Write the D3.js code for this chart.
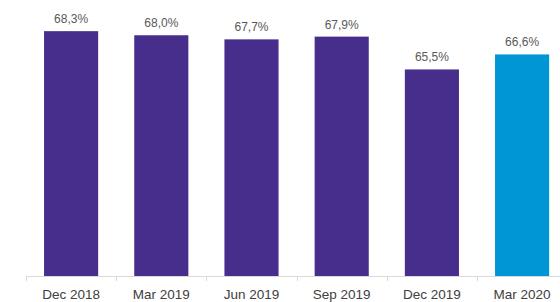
<!DOCTYPE html>
<html><head><meta charset="utf-8">
<script src="https://cdn.jsdelivr.net/npm/d3@7"></script>
<style>body{margin:0;background:#fff}svg{display:block}</style>
</head><body>
<svg id="c" width="560" height="302"></svg>
<script>
const categories = ["Dec 2018","Mar 2019","Jun 2019","Sep 2019","Dec 2019","Mar 2020"];
const values = [68.3, 68.0, 67.7, 67.9, 65.5, 66.6];
const valueLabels = ["68,3%","68,0%","67,7%","67,9%","65,5%","66,6%"];
const highlight = [false,false,false,false,false,true];

const svg = d3.select("#c");
const x = d3.scaleBand().domain(categories).range([26, 567.2]).paddingInner(0.4).paddingOuter(0.2);
const y = d3.scaleLinear().domain([50.4, 70]).range([276, 7.9]);
const step = x.step();

svg.selectAll("rect.bar").data(values).enter().append("rect")
  .attr("class","bar")
  .attr("x",(d,i)=>x(categories[i]))
  .attr("width",x.bandwidth())
  .attr("y",d=>y(d))
  .attr("height",d=>y.range()[0]-y(d))
  .attr("fill",(d,i)=>highlight[i]?"#0096D6":"#482E8C");

// axis line
svg.append("line").attr("x1",26).attr("x2",560).attr("y1",276.5).attr("y2",276.5)
  .attr("stroke","#d9d9d9").attr("stroke-width",1);
// band boundary ticks
categories.forEach(c=>{
  const tx = Math.round(x(c) - x.paddingOuter()*step) + 0.5;
  svg.append("line").attr("x1",tx).attr("x2",tx).attr("y1",276).attr("y2",281)
    .attr("stroke","#d9d9d9").attr("stroke-width",1);
});

svg.selectAll("text.cat").data(categories).enter().append("text")
  .attr("class","cat")
  .attr("x",d=>x(d)+x.bandwidth()/2)
  .attr("y",298.5)
  .attr("text-anchor","middle")
  .attr("font-family","Liberation Sans, Arial, sans-serif")
  .attr("font-size",13.5)
  .attr("fill","#404040")
  .text(d=>d);

svg.selectAll("text.val").data(values).enter().append("text")
  .attr("class","val")
  .attr("x",(d,i)=>x(categories[i])+x.bandwidth()/2)
  .attr("y",d=>y(d)-8)
  .attr("text-anchor","middle")
  .attr("font-family","Liberation Sans, Arial, sans-serif")
  .attr("font-size",12)
  .attr("fill","#595959")
  .text((d,i)=>valueLabels[i]);
</script>
</body></html>
